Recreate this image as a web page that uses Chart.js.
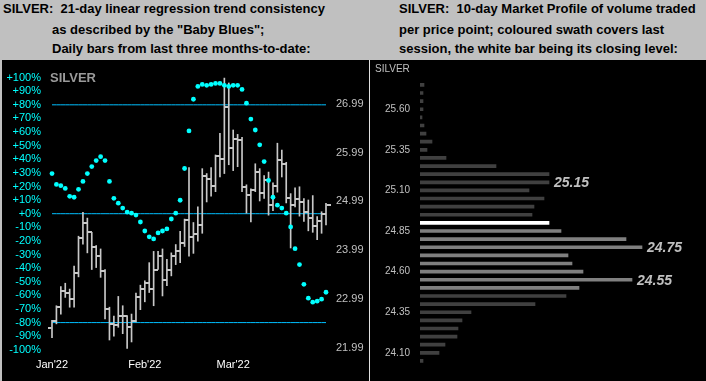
<!DOCTYPE html>
<html>
<head>
<meta charset="utf-8">
<script src="https://cdn.jsdelivr.net/npm/chart.js@4.4.0/dist/chart.umd.min.js"></script>
<style>
    body { margin: 0; width: 706px; height: 381px; overflow: hidden; position: relative; background: #c0c0c0; font-family: 'Liberation Sans', Arial, sans-serif; }
    .hd { position: absolute; font: bold 13px 'Liberation Sans', Arial, sans-serif; line-height: 13px; color: #000; white-space: pre; }
    .box { position: absolute; top: 60px; height: 321px; }
    .tag { position: absolute; white-space: pre; line-height: 13px; }
</style>
</head>
<body>
<div class="hd" style="left:3px;top:2px">SILVER:  21-day linear regression trend consistency</div>
<div class="hd" style="left:52px;top:23px">as described by the "Baby Blues";</div>
<div class="hd" style="left:52px;top:42px">Daily bars from last three months-to-date:</div>
<div class="hd" style="left:399px;top:2px">SILVER:  10-day Market Profile of volume traded</div>
<div class="hd" style="left:399px;top:23px">per price point; coloured swath covers last</div>
<div class="hd" style="left:399px;top:42px">session, the white bar being its closing level:</div>

<div class="box" style="left:2px;width:704px;background:#000"></div>
<div class="box" style="left:0;width:369px"><canvas id="trend"></canvas></div>
<div class="box" style="left:369px;width:1px;background:#e0e0e0"></div>
<div class="box" style="left:370px;width:336px"><canvas id="profile"></canvas></div>
<div class="tag" style="left:50px;top:70px;font:bold 13px 'Liberation Sans', Arial, sans-serif;color:#9a9a9a">SILVER</div>
<div class="tag" style="left:375px;top:63px;font:10px 'Liberation Sans', Arial, sans-serif;color:#c0c0c0">SILVER</div>

<script>
// left panel: daily bars, Jan'22 .. Mar'22 (weekdays)
const months = ["Jan'22", "Feb'22", "Mar'22"];
const monthDays = [21, 20, 22];

const opens = [22.40, 22.54, 22.84, 23.17, 23.13, 23.00, 23.52, 24.24, 24.55, 24.36, 24.05, 23.87, 23.57, 22.80, 22.49, 22.46, 22.66, 22.66, 22.42, 22.54, 23.03, 23.20, 23.33, 23.21, 23.60, 23.87, 23.39, 23.60, 23.87, 23.97, 24.14,
    24.61, 24.26, 24.33, 24.51, 25.50, 25.44, 25.30, 25.91, 25.86, 26.92, 26.08, 26.26, 26.24, 25.29, 25.12, 25.23, 25.59, 25.17, 25.42, 24.92, 25.30, 25.83, 25.76, 25.06, 24.92, 25.04, 24.98, 24.78, 24.66, 24.48, 24.59, 24.73];
const highs = [22.56, 22.86, 23.25, 23.32, 23.20, 23.67, 24.28, 24.77, 24.65, 24.36, 24.09, 24.02, 23.60, 22.83, 22.65, 23.05, 22.86, 22.66, 22.69, 23.12, 23.28, 23.37, 23.74, 23.97, 23.97, 24.02, 23.81, 23.94, 24.11, 24.38, 24.63,
    25.68, 24.56, 24.88, 25.66, 25.56, 25.68, 25.94, 26.38, 27.51, 27.41, 26.45, 26.36, 26.30, 25.33, 25.25, 25.76, 25.66, 25.52, 25.59, 25.37, 26.18, 26.04, 25.79, 25.15, 25.27, 25.29, 25.05, 25.02, 25.11, 24.68, 24.78, 24.95];
const lows = [22.21, 22.49, 22.69, 23.03, 22.83, 22.83, 23.45, 24.12, 23.94, 23.60, 23.64, 23.44, 22.59, 22.16, 22.24, 22.42, 22.29, 21.99, 22.12, 22.53, 22.78, 22.94, 23.13, 22.86, 23.60, 23.06, 23.27, 23.47, 23.70, 23.74, 24.07,
    23.87, 23.93, 24.18, 24.34, 24.98, 25.10, 25.19, 25.49, 25.56, 25.74, 25.62, 25.70, 25.19, 24.75, 24.57, 25.19, 25.00, 25.05, 24.71, 24.80, 25.18, 25.49, 24.96, 24.04, 24.88, 24.69, 24.58, 24.39, 24.36, 24.21, 24.34, 24.51];
const closes = [22.54, 22.84, 23.17, 23.13, 23.00, 23.52, 24.24, 24.55, 24.36, 24.05, 23.87, 23.57, 22.80, 22.49, 22.46, 22.66, 22.66, 22.42, 22.54, 23.03, 23.20, 23.33, 23.21, 23.60, 23.87, 23.39, 23.60, 23.87, 23.97, 24.14, 24.61,
    24.26, 24.33, 24.51, 25.50, 25.44, 25.30, 25.91, 25.86, 26.92, 26.08, 26.26, 26.24, 25.29, 25.12, 25.23, 25.59, 25.17, 25.42, 24.92, 25.30, 25.83, 25.76, 25.06, 24.92, 25.04, 24.98, 24.78, 24.66, 24.48, 24.59, 24.73, 24.92];
// "Baby Blues" trend consistency, %
const blues = [29.5, 21.5, 20.6, 18.6, 12.8, 12.1, 17.9, 23.7, 29.5, 34.6, 39.0, 41.9, 39.0, 23.7, 11.3, 7.7, 4.1, 1.2, 0.4, -1.0, -6.1, -12.7, -17.0, -18.5, -14.1, -12.7, -11.2, -3.9, 0.4, 9.9, 33.2,
    60.8, 84.1, 93.5, 95.0, 94.3, 95.0, 95.7, 95.7, 94.3, 93.5, 94.3, 94.3, 91.3, 81.2, 69.5, 61.5, 50.6, 38.3, 24.4, 12.1, 6.3, 4.1, 0.4, -9.7, -25.7, -37.4, -51.9, -62.1, -65.0, -64.3, -62.8, -57.7];
const priceTicks = [21.99, 22.99, 23.99, 24.99, 25.99, 26.99];
const blueLines = [80, 0, -80];

// right panel: 10-day market profile
const priceLevels = ['25.75', '25.70', '25.65', '25.60', '25.55', '25.50', '25.45', '25.40', '25.35', '25.30', '25.25', '25.20', '25.15', '25.10', '25.05', '25.00', '24.95', '24.90',
    '24.85', '24.80', '24.75', '24.70', '24.65', '24.60', '24.55', '24.50', '24.45', '24.40', '24.35', '24.30', '24.25', '24.20', '24.15', '24.10', '24.05'];
const volumes = [4, 3, 3, 3, 2, 4, 6, 12, 7, 26, 76, 129, 129, 109, 124, 114, 112, 129,
    141, 206, 222, 148, 152, 163, 212, 159, 146, 115, 51, 42, 38, 37, 25, 19, 3];
const swathLevels = ['24.85', '24.80', '24.75', '24.70', '24.65', '24.60', '24.55', '24.50'];
const closeLevel = '24.90';
const noteLevels = ['25.15', '24.75', '24.55'];

const font = "'Liberation Sans', Arial, sans-serif";
const barColor = '#c8c8c8';

const days = [];
months.forEach((m, i) => {
    for (let d = 0; d < monthDays[i]; d++) days.push(d === 0 ? m : '');
});

function tickImage(side) {
    const c = document.createElement('canvas');
    c.width = 9;
    c.height = 2;
    const g = c.getContext('2d');
    g.fillStyle = barColor;
    g.fillRect(side === 'left' ? 0 : 5, 0, 4, 2);
    return c;
}

// +80 / 0 / -80 guide lines
const guideSets = blueLines.map((v) => ({
    type: 'line',
    data: days.map(() => v),
    yAxisID: 'yL',
    borderColor: '#00bfff',
    borderWidth: 1,
    pointRadius: 0,
    fill: false,
}));

new Chart(document.getElementById('trend'), {
    type: 'bar',
    data: {
        labels: days,
        datasets: [
            {
                type: 'line',
                data: blues,
                yAxisID: 'yL',
                showLine: false,
                pointRadius: 2.4,
                pointBorderWidth: 0,
                pointBackgroundColor: '#00ffff',
                clip: false,
            },
            {
                type: 'line',
                data: closes,
                yAxisID: 'yP',
                showLine: false,
                pointRadius: 3,
                pointStyle: tickImage('right'),
                clip: false,
            },
            {
                type: 'line',
                data: opens,
                yAxisID: 'yP',
                showLine: false,
                pointRadius: 3,
                pointStyle: tickImage('left'),
                clip: false,
            },
            {
                data: lows.map((l, i) => [l, highs[i]]),
                yAxisID: 'yP',
                backgroundColor: barColor,
                barThickness: 1,
                clip: false,
            },
            ...guideSets,
        ],
    },
    options: {
        responsive: true,
        maintainAspectRatio: false,
        animation: false,
        events: [],
        layout: { padding: { top: 14.8 } },
        plugins: { legend: { display: false }, tooltip: { enabled: false } },
        scales: {
            x: {
                offset: false,
                grid: { display: false, drawTicks: false },
                border: { display: false },
                ticks: { autoSkip: false, maxRotation: 0, padding: 9, color: '#ffffff', font: { family: font, size: 11 } },
                afterFit: (s) => { s.height = 31.2; },
            },
            yL: {
                position: 'left',
                min: -100,
                max: 100,
                grid: { display: false, drawTicks: false },
                border: { display: false },
                ticks: {
                    stepSize: 10,
                    autoSkip: false,
                    padding: 11,
                    color: '#00ffff',
                    font: { family: font, size: 11 },
                    callback: (v) => (v < 0 ? '' : '+') + Math.round(v) + '%',
                },
                afterFit: (s) => { s.width = 52; },
            },
            yP: {
                position: 'right',
                min: 21.96,
                max: 27.52,
                grid: { display: false, drawTicks: false },
                border: { display: false },
                afterBuildTicks: (s) => { s.ticks = priceTicks.map((v) => ({ value: v })); },
                ticks: { padding: 10, color: '#c0c0c0', font: { family: font, size: 11 }, callback: (v) => v.toFixed(2) },
                afterFit: (s) => { s.width = 43; },
            },
        },
    },
});

const profileNotes = {
    id: 'profileNotes',
    afterDatasetsDraw(chart) {
        const ctx = chart.ctx;
        const bars = chart.getDatasetMeta(0).data;
        ctx.save();
        ctx.font = 'italic bold 14px ' + font;
        ctx.fillStyle = '#c0c0c0';
        ctx.textBaseline = 'middle';
        noteLevels.forEach((lv) => {
            const bar = bars[priceLevels.indexOf(lv)];
            ctx.fillText(lv, bar.x + 5, bar.y + 1);
        });
        ctx.restore();
    },
};

new Chart(document.getElementById('profile'), {
    type: 'bar',
    data: {
        labels: priceLevels,
        datasets: [
            {
                data: volumes,
                backgroundColor: priceLevels.map((lv) =>
                    lv === closeLevel ? '#ffffff' : swathLevels.includes(lv) ? '#808080' : '#404040'
                ),
                barThickness: 3,
            },
        ],
    },
    options: {
        indexAxis: 'y',
        responsive: true,
        maintainAspectRatio: false,
        animation: false,
        events: [],
        layout: { padding: { top: 20.8, bottom: 5.8 } },
        plugins: { legend: { display: false }, tooltip: { enabled: false } },
        scales: {
            x: { display: false, min: 0, max: 286 },
            y: {
                grid: { display: false, drawTicks: false },
                border: { display: false },
                ticks: {
                    autoSkip: false,
                    padding: 10,
                    color: '#c0c0c0',
                    font: { family: font, size: 10 },
                    callback: (v, i) => (i % 5 === 3 ? priceLevels[i] : ''),
                },
                afterFit: (s) => { s.width = 50; },
            },
        },
    },
    plugins: [profileNotes],
});
</script>
</body>
</html>
